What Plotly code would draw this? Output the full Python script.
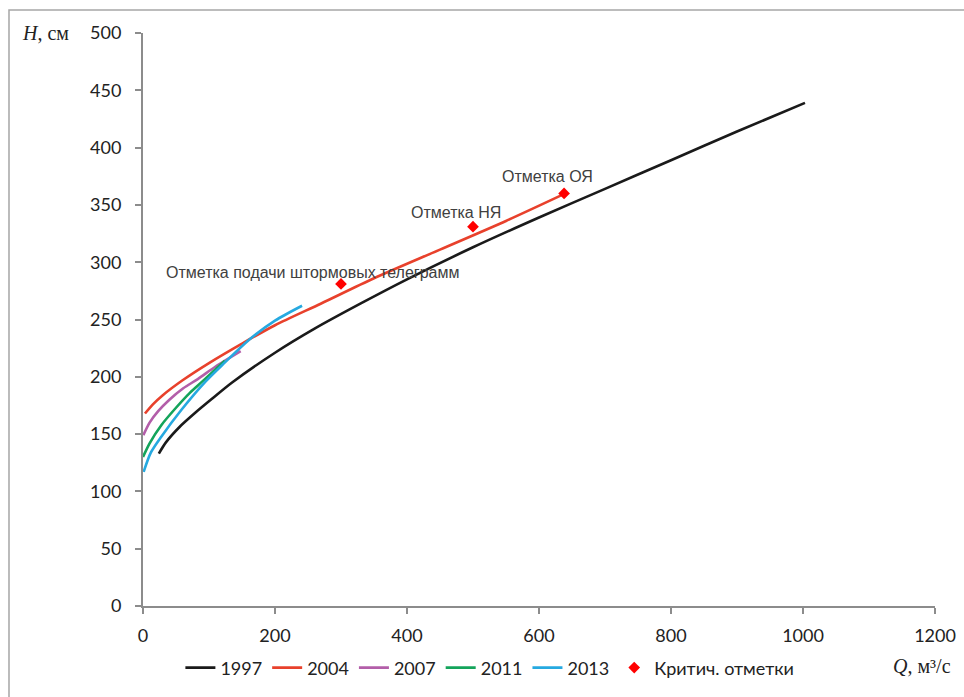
import plotly.graph_objects as go

# ---- data (Q, m3/s ; H, cm) ----
q_1997 = [24, 35, 55, 80, 105, 135, 200, 260, 330, 400, 500, 600, 700, 800, 900, 1003]
h_1997 = [133, 143, 156, 169, 181, 195, 221, 242, 264, 285, 313, 339, 364, 389, 414, 439]

q_2004 = [3, 15, 30, 60, 100, 150, 200, 270, 350, 450, 550, 640]
h_2004 = [168, 176, 184, 197, 212, 229, 245, 264, 286, 311, 336, 360]

q_2007 = [0.5, 10, 23, 40, 61, 83, 110, 148]
h_2007 = [149, 160, 170, 180, 190, 198, 209, 222.5]

q_2011 = [0, 10, 28, 50, 71, 90, 124]
h_2011 = [130, 142, 158, 173, 186, 196, 214]

q_2013 = [1, 12, 28, 58, 95, 125, 160, 200, 241]
h_2013 = [117, 134, 148, 171, 196, 213, 232, 249, 262]

crit_q = [300, 500, 638]
crit_h = [281, 331, 360]
crit_labels = ["Отметка подачи штормовых телеграмм", "Отметка НЯ", "Отметка ОЯ"]

series = [
    ("1997", q_1997, h_1997, "#1a1a1a"),
    ("2004", q_2004, h_2004, "#e8412c"),
    ("2007", q_2007, h_2007, "#b35ea9"),
    ("2011", q_2011, h_2011, "#14a45b"),
    ("2013", q_2013, h_2013, "#26a9e0"),
]

fig = go.Figure()
for name, q, h, col in series:
    fig.add_trace(go.Scatter(x=q, y=h, mode="lines", name=name,
                             line=dict(color=col, width=2.6, shape="spline", smoothing=0.8)))

fig.add_trace(go.Scatter(x=crit_q, y=crit_h, mode="markers", name="Критич. отметки",
                         marker=dict(symbol="diamond", color="#ff0000", size=9)))

shifts = [(-29, 11), (-17, 14), (-17, 17)]
for q, h, t, (dx, dy) in zip(crit_q, crit_h, crit_labels, shifts):
    fig.add_annotation(x=q, y=h, text=t, showarrow=False, xshift=dx, yshift=dy,
                       font=dict(family="Liberation Sans, Arial", size=16, color="#404040"))

gray = "#8c8c8c"
fig.update_xaxes(range=[0, 1200], tickvals=[0, 200, 400, 600, 800, 1000, 1200],
                 showgrid=False, zeroline=False, showline=True, linecolor=gray, linewidth=2,
                 ticks="outside", ticklen=6, tickcolor=gray, tickwidth=2,
                 ticklabelstandoff=6, automargin=False,
                 tickfont=dict(family="Lato, Open Sans", size=18, color="#222"))
fig.update_yaxes(range=[0, 500], tickvals=list(range(0, 501, 50)),
                 showgrid=False, zeroline=False, showline=True, linecolor=gray, linewidth=2,
                 ticks="outside", ticklen=6, tickcolor=gray, tickwidth=2,
                 ticklabelstandoff=10, automargin=False,
                 tickfont=dict(family="Lato, Open Sans", size=18, color="#222"))

fig.add_annotation(xref="paper", yref="paper", x=-0.155, y=1.0, xanchor="left", yanchor="middle",
                   text="<i>H</i>, см", showarrow=False,
                   font=dict(family="Liberation Serif, Times New Roman", size=20, color="#222"))
fig.add_annotation(xref="paper", yref="paper", x=1.0227, y=-0.105, xanchor="right", yanchor="middle",
                   text="<i>Q</i>, м³/с", showarrow=False,
                   font=dict(family="Liberation Serif, Times New Roman", size=20, color="#222"))

# outer chart border
fig.add_shape(type="rect", xref="paper", yref="paper", x0=-0.1692, x1=1.2, y0=-0.3, y1=1.0401,
              line=dict(color="#a6a6a6", width=1.5), fillcolor="rgba(0,0,0,0)", layer="below")

fig.update_layout(
    width=964, height=697,
    margin=dict(l=143, r=29, t=33, b=91, autoexpand=False),
    paper_bgcolor="white", plot_bgcolor="white",
    showlegend=True,
    legend=dict(orientation="h", x=0.438, xanchor="center", y=-0.108, yanchor="middle",
                font=dict(family="Lato, Open Sans", size=18, color="#222"),
                itemwidth=30, tracegroupgap=0, bgcolor="rgba(0,0,0,0)"),
)

fig.write_html("out.html")
